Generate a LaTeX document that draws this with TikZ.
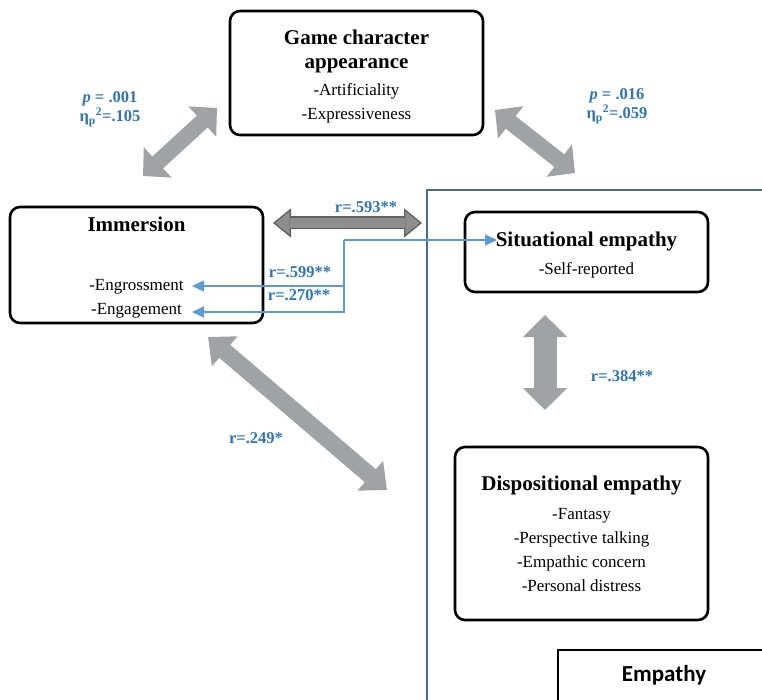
\documentclass[tikz,border=0pt]{standalone}
\usepackage{fontspec}
\setmainfont{Liberation Serif}
\newfontfamily\labelsans{Carlito}
\usetikzlibrary{arrows.meta}

\definecolor{arrgray}{HTML}{A0A3A5}
\definecolor{corrfill}{HTML}{8E8E8E}
\definecolor{corredge}{HTML}{606060}
\definecolor{labblue}{HTML}{2E75B6}
\definecolor{linkblue}{HTML}{5B9BD5}
\definecolor{framecol}{HTML}{4C6D85}

\newcommand{\boxtitle}[1]{{\fontsize{21}{24}\selectfont\bfseries #1}}

\begin{document}
\begin{tikzpicture}[x=1pt, y=1pt,
  box/.style={draw, line width=2.6pt, rounded corners=10pt, align=center,
              inner sep=0pt, font=\fontsize{17}{24}\selectfont},
  stat/.style={text=labblue, inner sep=0pt, align=center,
               font=\fontsize{16.5}{19}\selectfont\bfseries},
  bigarr/.style n args={3}{draw=arrgray, line width=#1,
               arrows={Triangle[width=#2,length=#3]-Triangle[width=#2,length=#3]}},
  link/.style={draw=linkblue, line width=1.3pt, -{Triangle[width=11pt,length=12pt]}}
]
  \useasboundingbox (0,0) rectangle (762,-700);

  % Empathy frame
  \draw[framecol, line width=1.8pt] (780,-190) -- (427,-190) -- (427,-720);
  \draw[line width=1.5pt] (558,-720) -- (558,-650) -- (780,-650);
  \node[font=\labelsans\fontsize{23}{26}\selectfont\bfseries] (emp) at (664,-675) {Empathy};

  \node[box, minimum width=253pt, minimum height=124pt] (game) at (356.5,-73)
    {\boxtitle{\rule{0pt}{22.5pt}Game character}\\\boxtitle{appearance}\\[3pt]-Artificiality\\-Expressiveness};
  \node[box, minimum width=253pt, minimum height=116pt] (imm) at (136.5,-265)
    {\boxtitle{\rule{0pt}{20.5pt}Immersion}\\[35pt]-Engrossment\\-Engagement};
  \node[box, minimum width=243pt, minimum height=80pt] (sit) at (586.5,-252)
    {\boxtitle{\rule{0pt}{20.5pt}Situational empathy}\\[4pt]-Self-reported};
  \node[box, minimum width=253pt, minimum height=173pt] (disp) at (581.5,-533.5)
    {\boxtitle{Dispositional empathy}\\[5pt]-Fantasy\\-Perspective talking\\-Empathic concern\\-Personal distress};

  % Arrow ends
  \coordinate (gi-a) at (143,-176);
  \coordinate (gi-b) at (217,-108);
  \coordinate (gs-a) at (495,-110);
  \coordinate (gs-b) at (575,-173);
  \coordinate (id-a) at (208,-337);
  \coordinate (id-b) at (387,-490);
  \coordinate (sd-a) at (545,-315);
  \coordinate (sd-b) at (545,-410);
  \coordinate (is-a) at (273,-223);
  \coordinate (is-b) at (422,-223);
  \coordinate (split) at (344,-240);
  \coordinate (sitin) at (497,-240);
  \coordinate (engross) at (192,-286);
  \coordinate (engage) at (192,-312);

  \draw[bigarr={16pt}{40pt}{20pt}] (gi-a) -- (gi-b);
  \draw[bigarr={16pt}{40pt}{20pt}] (gs-a) -- (gs-b);
  \draw[bigarr={17pt}{38pt}{22pt}] (id-a) -- (id-b);
  \draw[bigarr={23pt}{43pt}{22pt}] (sd-a) -- (sd-b);
  \draw[corredge, line width=13pt,
        arrows={Triangle[width=29pt,length=18pt,fill=corrfill,line width=1.3pt]-Triangle[width=29pt,length=18pt,fill=corrfill,line width=1.3pt]}]
    (is-a) -- (is-b);
  \draw[corrfill, line width=10.4pt, shorten <=17pt, shorten >=17pt] (is-a) -- (is-b);

  \draw[link] (split) -- (sitin);
  \draw[link] (split) |- (engross);
  \draw[link] (split) |- (engage);

  % Statistics
  \node[stat] (st-gi) at (110,-109) {\textit{p} = .001\\η\textsubscript{p}\textsuperscript{2}=.105};
  \node[stat] (st-gs) at (617,-106.5) {\textit{p} = .016\\η\textsubscript{p}\textsuperscript{2}=.059};
  \node[stat] (st-is) at (366,-207) {r=.593**};
  \node[stat] (st-engross) at (300,-272) {r=.599**};
  \node[stat] (st-engage) at (299,-295) {r=.270**};
  \node[stat] (st-id) at (256,-438) {r=.249*};
  \node[stat] (st-sd) at (622,-376) {r=.384**};
\end{tikzpicture}
\end{document}
